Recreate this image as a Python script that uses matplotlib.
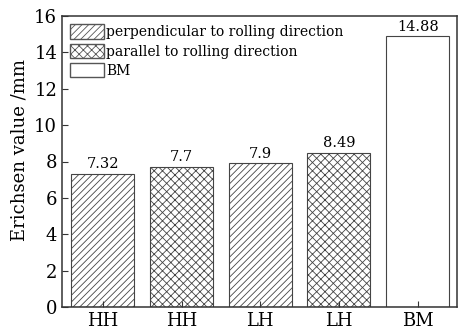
import numpy as np
import matplotlib
matplotlib.use("Agg")
import matplotlib.pyplot as plt
from matplotlib.patches import Patch

plt.rcParams['font.family'] = ['DejaVu Serif']
plt.rcParams['hatch.linewidth'] = 0.6
plt.rcParams['hatch.color'] = '#555555'

labels = ["HH", "HH", "LH", "LH", "BM"]
values = [7.32, 7.7, 7.9, 8.49, 14.88]
hatches = ["/////", "xxxx", "/////", "xxxx", ""]
value_text = ["7.32", "7.7", "7.9", "8.49", "14.88"]
legend_labels = ["perpendicular to rolling direction", "parallel to rolling direction", "BM"]

fig = plt.figure(figsize=(4.64, 3.32), dpi=100)
ax = fig.add_axes([62 / 464, 1 - 307 / 332, 395 / 464, 291 / 332])

x = np.arange(len(values))
bars = ax.bar(x, values, width=0.8, color="white", edgecolor="#444444", linewidth=0.8)
for b, h in zip(bars, hatches):
    b.set_hatch(h)

for xi, v, t in zip(x, values, value_text):
    ax.text(xi, v + 0.15, t, ha="center", va="bottom", fontsize=10.5)

ax.set_xlim(-0.52, 4.5)
ax.set_ylim(0, 16)
ax.set_yticks(np.arange(0, 17, 2))
ax.set_xticks(x)
ax.set_xticklabels(labels)
ax.tick_params(direction="in", labelsize=13, length=4, color="#333333")
for s in ax.spines.values():
    s.set_color("#333333")
    s.set_linewidth(1.1)
ax.set_ylabel("Erichsen value /mm", fontsize=13)
ax.yaxis.set_label_coords(-0.085, 0.54)

handles = [Patch(facecolor="white", edgecolor="#555555", hatch="/////"),
           Patch(facecolor="white", edgecolor="#555555", hatch="xxxx"),
           Patch(facecolor="white", edgecolor="#555555")]
ax.legend(handles, legend_labels, loc="upper left", frameon=False, fontsize=10,
          handlelength=2.4, handleheight=1.25, handletextpad=0.2, labelspacing=0.3,
          borderaxespad=0.2)

fig.savefig("out.png", dpi=100)
